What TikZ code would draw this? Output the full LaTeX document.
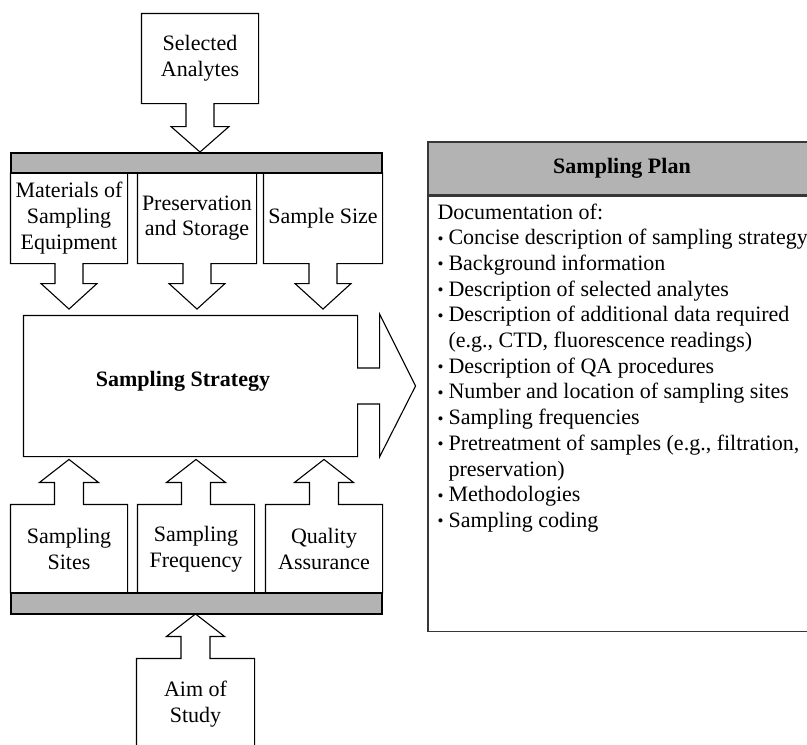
\documentclass[tikz,border=0pt]{standalone}
\usepackage{fontspec}
\setmainfont{Liberation Serif}
\usetikzlibrary{calc}
\definecolor{barfill}{RGB}{179,179,179}
\definecolor{planline}{RGB}{55,55,55}
\newcommand\bul{\makebox[11pt][l]{\raisebox{0.5pt}{\fontsize{17}{17}\selectfont •}}}
\newcommand\ind{\hspace*{11pt}}
\begin{document}
\begin{tikzpicture}[x=1pt,y=-1pt,line width=1.1pt,
  txt/.style={font=\fontsize{22}{25.7}\selectfont, align=center, inner sep=0pt},
  bar/.style={draw, fill=barfill, inner sep=0pt, minimum width=371pt},
  plain/.style={draw=planline, line width=1.6pt, inner sep=0pt}]
\fill[white] (0,0) rectangle (807,745);
\useasboundingbox (0,0) rectangle (807,745);
% nodes
\node[txt, minimum width=116pt, minimum height=89pt] (sa) at (200,58.5) {Selected\\Analytes};
\node[bar, minimum height=20pt] (bar1) at (196.5,163) {};
\node[txt, minimum width=116pt, minimum height=90pt] (m1) at (69,218) {Materials of\\Sampling\\Equipment};
\node[txt, minimum width=118pt, minimum height=90pt] (m2) at (197,218) {Preservation\\and Storage};
\node[txt, minimum width=118pt, minimum height=90pt] (m3) at (323,218) {Sample Size};
\node[txt, minimum width=333pt, minimum height=140pt] (ss) at (190.5,386) {};
\node[txt, font=\fontsize{22}{25.7}\selectfont\bfseries] (sslabel) at (183,381) {Sampling Strategy};
\node[txt, minimum width=116pt, minimum height=88pt] (b1) at (69,549) {Sampling\\Sites};
\node[txt, minimum width=116pt, minimum height=88pt] (b2) at (196,549) {Sampling\\Frequency};
\node[txt, minimum width=116pt, minimum height=88pt] (b3) at (324,549) {Quality\\Assurance};
\node[bar, minimum height=21pt] (bar2) at (196.5,603.5) {};
\node[txt, minimum width=117pt, minimum height=90pt] (aim) at (195.5,704) {Aim of\\Study};
% outlines
\draw (sa.north west) -- (sa.south west) -- ($(sa.south)+(-14,0)$) -- ++(0,23)
  -- ($(sa.south)+(-29,23)$) -- ($(sa.south)+(0,48.5)$) -- ($(sa.south)+(29,23)$)
  -- ($(sa.south)+(14,23)$) -- ($(sa.south)+(14,0)$) -- (sa.south east) -- (sa.north east) -- cycle;
\foreach \n in {m1,m2,m3}{
  \draw (\n.north west) -- (\n.south west) -- ($(\n.south)+(-14,0)$) -- ++(0,20)
    -- ($(\n.south)+(-28,20)$) -- ($(\n.south)+(0,45.5)$) -- ($(\n.south)+(28,20)$)
    -- ($(\n.south)+(14,20)$) -- ($(\n.south)+(14,0)$) -- (\n.south east) -- (\n.north east);
}
\draw (ss.north west) -- (ss.north east) -- ($(ss.east)+(0,-18)$) -- ++(22,0)
  -- ($(ss.east)+(22,-72)$) -- ($(ss.east)+(58,0)$) -- ($(ss.east)+(22,71)$)
  -- ($(ss.east)+(22,18)$) -- ($(ss.east)+(0,18)$) -- (ss.south east) -- (ss.south west) -- cycle;
\foreach \n in {b1,b2,b3}{
  \draw (\n.south west) -- (\n.north west) -- ($(\n.north)+(-14.5,0)$) -- ++(0,-22)
    -- ($(\n.north)+(-29.5,-22)$) -- ($(\n.north)+(0,-45)$) -- ($(\n.north)+(29.5,-22)$)
    -- ($(\n.north)+(14.5,-22)$) -- ($(\n.north)+(14.5,0)$) -- (\n.north east) -- (\n.south east);
}
\draw (aim.south west) -- (aim.north west) -- ($(aim.north)+(-14.5,0)$) -- ++(0,-22)
  -- ($(aim.north)+(-29,-22)$) -- ($(aim.north)+(0,-44.5)$) -- ($(aim.north)+(29,-22)$)
  -- ($(aim.north)+(14.5,-22)$) -- ($(aim.north)+(14.5,0)$) -- (aim.north east) -- (aim.south east);
% bars on top
\node[bar, minimum height=20pt] at (bar1) {};
\node[bar, minimum height=21pt] at (bar2) {};
% sampling plan
\node[plain, fill=barfill, minimum width=388pt, minimum height=53pt, font=\fontsize{22}{25.7}\selectfont\bfseries] (plan) at (622,168.5) {Sampling Plan};
\node[plain, minimum width=388pt, minimum height=435pt, anchor=north west] (planbody) at (plan.south west) {};
\node[txt, align=left, anchor=north west] (plantext) at (437,203) {Documentation of:\\
\bul Concise description of sampling strategy\\
\bul Background information\\
\bul Description of selected analytes\\
\bul Description of additional data required\\
\ind(e.g., CTD, fluorescence readings)\\
\bul Description of QA procedures\\
\bul Number and location of sampling sites\\
\bul Sampling frequencies\\
\bul Pretreatment of samples (e.g., filtration,\\
\ind preservation)\\
\bul Methodologies\\
\bul Sampling coding};
\end{tikzpicture}
\end{document}
